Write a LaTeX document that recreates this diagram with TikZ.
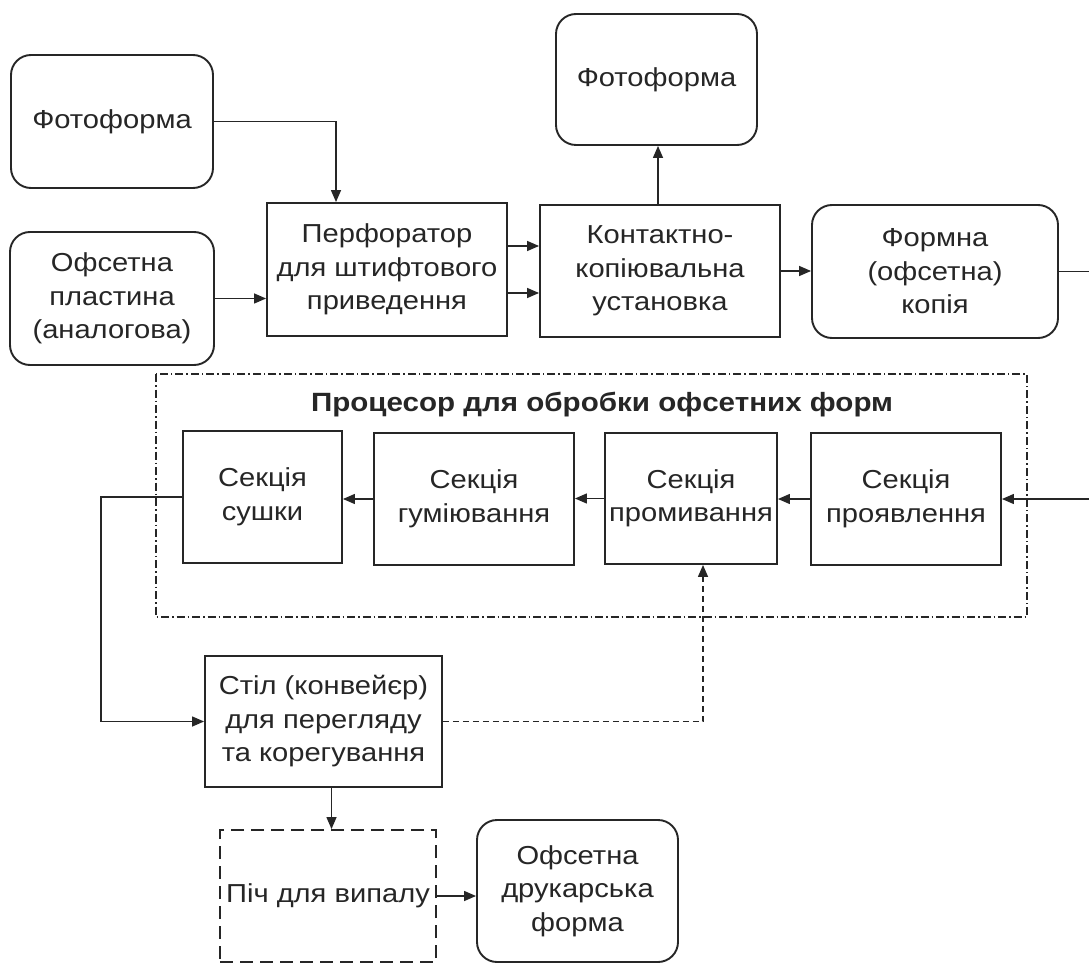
\documentclass[tikz,border=0pt]{standalone}
\usepackage{fontspec}
\setmainfont{Liberation Sans}[FakeStretch=1.12]
\usetikzlibrary{arrows.meta}
\definecolor{ink}{HTML}{262626}
\begin{document}
\begin{tikzpicture}[x=1pt,y=-1pt,
  txt/.style={align=center,text=ink,font=\fontsize{26}{33.5}\selectfont,inner sep=0pt},
  sq/.style={txt,draw=ink,line width=1.9pt},
  rbox/.style={sq,rounded corners=20pt},
  dbox/.style={sq,dash pattern=on 13pt off 7pt},
  arr/.style={draw=ink,line width=1.4pt,-{Triangle[length=12pt,width=10pt]}},
  darr/.style={arr,dash pattern=on 6pt off 4pt},
  frame/.style={draw=ink,line width=1.5pt,dash pattern=on 8pt off 3pt on 1.5pt off 3pt}
]
\useasboundingbox (0,0) rectangle (1089,965);
\fill[white] (0,0) rectangle (1089,965);

% top row
\node[rbox,minimum width=202pt,minimum height=133pt] (f1) at (112,121.5) {Фотоформа};
\node[rbox,minimum width=201pt,minimum height=131pt] (f2) at (656.5,79.5) {Фотоформа};
\node[rbox,minimum width=204pt,minimum height=133pt] (ofs) at (112,298.5) {Офсетна\\пластина\\(аналогова)};
\node[sq,minimum width=240pt,minimum height=133pt] (perf) at (387,269.5) {Перфоратор\\для штифтового\\приведення};
\node[sq,minimum width=240pt,minimum height=132pt] (cont) at (660,271) {Контактно-\\копіювальна\\установка};
\node[rbox,minimum width=246pt,minimum height=133pt] (form) at (935,271.5) {Формна\\(офсетна)\\копія};

% processor frame
\draw[frame] (156,374) rectangle (1027,617);
\node[txt,font=\bfseries\fontsize{26.4}{33}\selectfont] (title) at (602,405) {Процесор для обробки офсетних форм};
\node[sq,minimum width=159pt,minimum height=132pt] (sush) at (262.5,497) {Секція\\сушки};
\node[sq,minimum width=200pt,minimum height=132pt] (gum) at (474,499) {Секція\\гуміювання};
\node[sq,minimum width=172pt,minimum height=131pt] (prom) at (691,498.5) {Секція\\промивання};
\node[sq,minimum width=190pt,minimum height=132pt] (prov) at (906,499) {Секція\\проявлення};

% bottom
\node[sq,minimum width=237pt,minimum height=131pt] (stil) at (323.5,721.5) {Стіл (конвейєр)\\для перегляду\\та корегування};
\node[dbox,minimum width=216pt,minimum height=132pt] (pich) at (328,896) {Піч для випалу};
\node[rbox,minimum width=201pt,minimum height=142pt] (druk) at (577.5,891) {Офсетна\\друкарська\\форма};

% connectors
\draw[arr] (f1.east) -| ([xshift=-51pt]perf.north);
\draw[arr] (ofs.east) -- (ofs.east -| perf.west);
\draw[arr] ([yshift=23.5pt]perf.east) -- ([yshift=23.5pt]perf.east -| cont.west);
\draw[arr] ([yshift=-23.5pt]perf.east) -- ([yshift=-23.5pt]perf.east -| cont.west);
\draw[arr] ([xshift=-2pt]cont.north) -- ([xshift=-2pt]cont.north |- f2.south);
\draw[arr] (cont.east) -- (cont.east -| form.west);
\draw[arr] (form.east) -- ++(34,0) |- (prov.east);
\draw[arr] (prov.west) -- (prov.west -| prom.east);
\draw[arr] (prom.west) -- (prom.west -| gum.east);
\draw[arr] (gum.west) -- (gum.west -| sush.east);
\draw[arr] (sush.west) -- ++(-81,0) |- (stil.west);
\draw[darr] (stil.east) -| ([xshift=12pt]prom.south);
\draw[arr] ([xshift=8pt]stil.south) -- ([xshift=8pt]stil.south |- pich.north);
\draw[arr] (pich.east) -- (pich.east -| druk.west);
\end{tikzpicture}
\end{document}
